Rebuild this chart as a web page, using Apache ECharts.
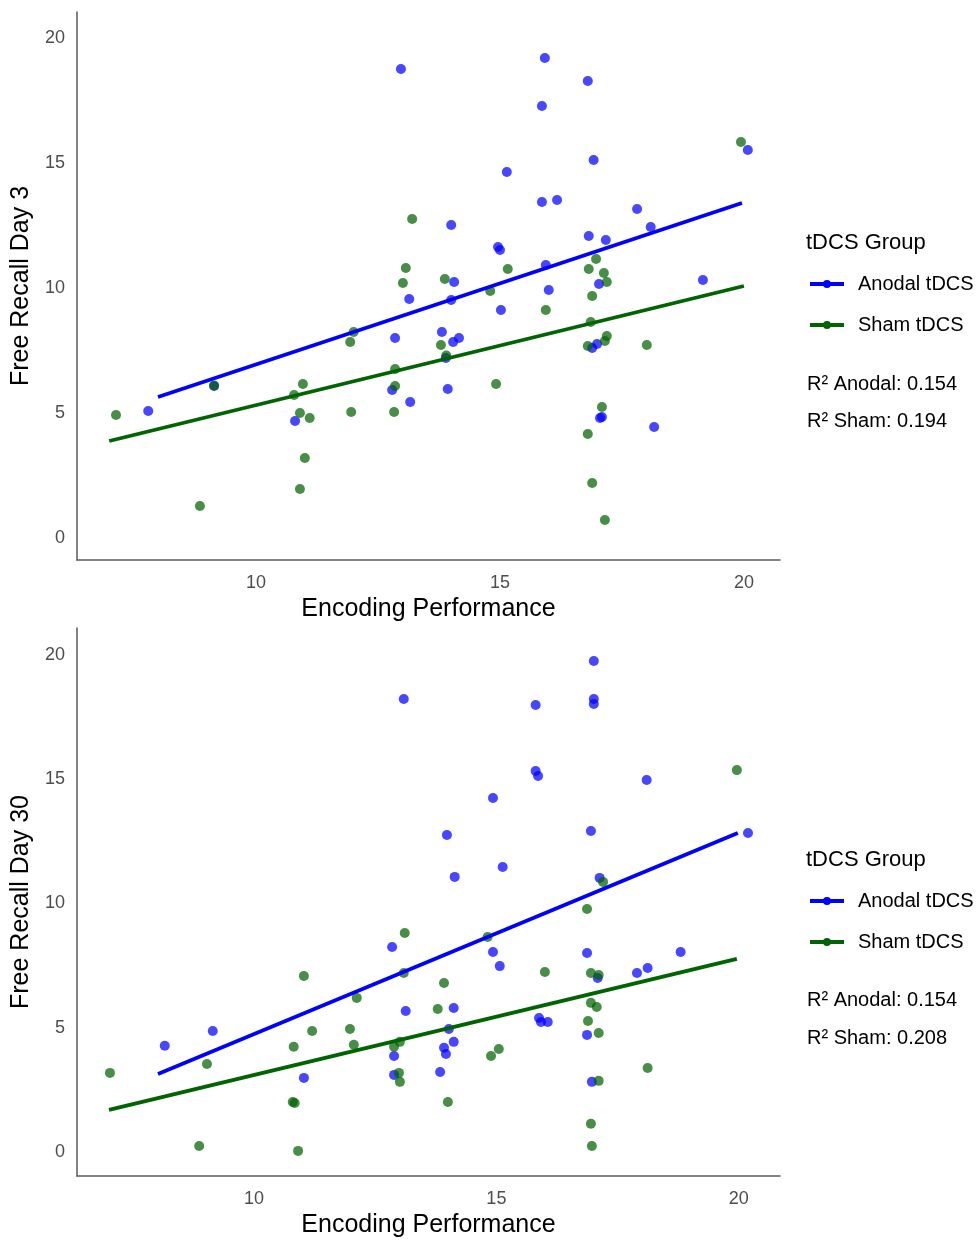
<!DOCTYPE html>
<html>
<head>
<meta charset="utf-8">
<title>Free Recall vs Encoding Performance</title>
<script src="https://cdn.jsdelivr.net/npm/echarts@6/dist/echarts.min.js"></script>
<style>
  html, body { margin: 0; padding: 0; background: #fff; }
  #main { width: 977px; height: 1241px; }
</style>
</head>
<body>
<div id="main"></div>
<script>
// 刻度
var xTicks = [10, 15, 20];
var yTicks = [0, 5, 10, 15, 20];
var groupNames = ['Anodal tDCS', 'Sham tDCS'];
var color = ['#0000ff', '#006400'];

// Day 3 散点 [encoding, recall]
var anodalDay3 = [
  [7.79,5.08],[9.14,6.08],[10.8,4.68],[12.97,18.76],[12.79,5.92],[12.85,8.0],[13.14,9.56],[13.16,5.44],
  [15.92,19.2],[16.8,18.28],[15.86,17.28],[16.92,15.12],[15.14,14.64],[20.08,15.52],[15.86,13.44],[16.17,13.52],
  [17.81,13.16],[18.09,12.44],[14.0,12.52],[16.82,12.08],[17.17,11.92],[14.96,11.64],[15.0,11.52],[15.94,10.92],
  [14.06,10.24],[17.03,10.16],[19.16,10.32],[16.0,9.92],[14.0,9.52],[15.02,9.12],[13.81,8.24],[14.04,7.84],
  [14.16,8.0],[13.89,7.2],[16.89,7.6],[16.99,7.76],[13.93,5.96],[17.05,4.8],[17.09,4.84],[18.16,4.44]
];
var shamDay3 = [
  [19.94,15.84],[13.2,12.76],[16.97,11.16],[16.82,10.76],[17.13,10.6],[13.07,10.8],[15.16,10.76],[13.87,10.36],
  [13.01,10.2],[17.19,10.24],[14.8,9.88],[16.89,9.68],[15.94,9.12],[13.79,7.72],[13.9,7.3],[16.86,8.64],
  [17.19,8.08],[17.15,7.88],[16.8,7.68],[18.01,7.72],[14.92,6.16],[17.09,5.24],[16.8,4.16],[16.89,2.2],
  [17.15,0.72],[12.0,8.24],[11.93,7.84],[12.85,6.76],[12.85,6.08],[12.83,5.04],[7.13,4.92],[9.14,6.1],
  [10.96,6.16],[10.78,5.72],[10.9,5.0],[11.1,4.8],[11.95,5.04],[11.0,3.2],[10.9,1.96],[8.85,1.28]
];
// Day 3 回归线端点
var anodalFitDay3 = [[7.99,5.64],[19.96,13.4]];
var shamFitDay3 = [[6.99,3.88],[20.0,10.08]];

// Day 30 散点
var anodalDay30 = [
  [13.09,18.23],[17.01,19.76],[15.81,17.99],[17.01,18.23],[17.01,18.03],[15.81,15.33],[15.86,15.13],[18.1,14.97],
  [14.93,14.25],[13.98,12.76],[16.95,12.92],[20.19,12.84],[15.13,11.47],[14.14,11.07],[17.13,11.03],[12.85,8.25],
  [13.13,5.67],[9.15,4.87],[8.16,4.27],[12.89,3.86],[11.03,2.98],[12.89,3.1],[14.93,8.05],[15.07,7.48],
  [16.87,8.01],[18.8,8.05],[17.09,7.0],[17.9,7.2],[18.12,7.4],[14.12,5.79],[14.02,4.95],[14.12,4.43],
  [13.92,4.19],[13.96,3.94],[13.84,3.22],[15.88,5.39],[15.92,5.23],[16.06,5.23],[16.87,4.71],[16.97,2.82]
];
var shamDay30 = [
  [19.96,15.37],[17.2,10.87],[13.11,8.81],[13.09,7.2],[11.03,7.08],[12.12,6.2],[9.03,3.54],[7.03,3.18],
  [11.2,4.87],[11.98,4.95],[10.82,4.23],[12.06,4.31],[12.89,4.23],[13.01,4.43],[12.99,3.18],[13.01,2.82],
  [10.8,2.01],[10.84,1.97],[8.87,0.24],[10.91,0.04],[16.87,9.78],[14.82,8.65],[16.0,7.24],[16.95,7.2],
  [17.11,7.12],[13.92,6.8],[13.79,5.75],[14.0,2.01],[14.89,3.86],[15.05,4.14],[16.95,6.0],[17.07,5.83],
  [16.89,5.27],[17.11,4.79],[18.12,3.38],[17.11,2.86],[16.95,1.13],[16.97,0.24]
];
var anodalFitDay30 = [[8.02,3.14],[19.98,12.84]];
var shamFitDay30 = [[7.01,1.69],[19.96,7.77]];

var r2Day3 = ['R\u00b2 Anodal: 0.154', 'R\u00b2 Sham: 0.194'];
var r2Day30 = ['R\u00b2 Anodal: 0.154', 'R\u00b2 Sham: 0.208'];

var fontFamily = '"Liberation Sans", Arial, sans-serif';
var axisColor = '#5a5a5a';

// x轴
function makeX(idx, min, max){
  return {
    type: 'value', gridIndex: idx, min: min, max: max,
    name: 'Encoding Performance', nameLocation: 'middle', nameGap: 37,
    nameTextStyle: { fontSize: 25, color: '#000', fontFamily: fontFamily },
    axisLine: { show: true, onZero: false, lineStyle: { color: axisColor, width: 1.5 } },
    axisTick: { show: false },
    splitLine: { show: false },
    axisLabel: { customValues: xTicks, fontSize: 18, color: '#4d4d4d', margin: 14, fontFamily: fontFamily }
  };
}

// y轴
function makeY(idx, min, max, title){
  return {
    type: 'value', gridIndex: idx, min: min, max: max,
    name: title, nameLocation: 'middle', nameGap: 43,
    nameTextStyle: { fontSize: 25, color: '#000', fontFamily: fontFamily },
    axisLine: { show: true, onZero: false, lineStyle: { color: axisColor, width: 1.5 } },
    axisTick: { show: false },
    splitLine: { show: false },
    axisLabel: { customValues: yTicks, fontSize: 18, color: '#4d4d4d', margin: 12, fontFamily: fontFamily }
  };
}

function fitLine(idx, name, data, c){
  return {
    type: 'line', name: name, xAxisIndex: idx, yAxisIndex: idx, data: data,
    showSymbol: false, z: 4, silent: true,
    itemStyle: { color: c },
    lineStyle: { color: c, width: 3.8 }
  };
}

function points(idx, name, data, c){
  return {
    type: 'scatter', name: name, xAxisIndex: idx, yAxisIndex: idx, data: data,
    symbolSize: 10, z: 2,
    itemStyle: { color: c, opacity: 0.72 }
  };
}

// 图例 线+圆点
var legendIcon = 'path://M0,3H34V7H0Z M17,1A4,4 0 1,1 16.99,1Z';

function makeLegend(top){
  return {
    orient: 'vertical', left: 805, top: top,
    data: groupNames, icon: legendIcon,
    itemWidth: 34, itemHeight: 10, itemGap: 21,
    selectedMode: false,
    itemStyle: { opacity: 1, borderWidth: 0 },
    textStyle: { fontSize: 20, color: '#000', lineHeight: 20, padding: [0, 0, 0, 9], fontFamily: fontFamily }
  };
}

function textEl(left, top, str, size){
  return {
    type: 'text', left: left, top: top,
    style: { text: str, fontSize: size, fill: '#000', fontFamily: fontFamily }
  };
}

var myChart = echarts.init(document.getElementById('main'), null, { renderer: 'canvas' });
myChart.setOption({
  backgroundColor: '#fff',
  animation: false,
  grid: [
    { left: 77, top: 12, width: 703, height: 548 },
    { left: 77, top: 628, width: 703, height: 548 }
  ],
  xAxis: [ makeX(0, 6.33, 20.74), makeX(1, 6.35, 20.85) ],
  yAxis: [ makeY(0, -0.88, 21.04, 'Free Recall Day 3'), makeY(1, -0.97, 21.09, 'Free Recall Day 30') ],
  legend: [ makeLegend(269), makeLegend(886) ],
  graphic: [
    textEl(806, 232, 'tDCS Group', 22),
    textEl(807, 374, r2Day3[0], 20),
    textEl(807, 411, r2Day3[1], 20),
    textEl(806, 849, 'tDCS Group', 22),
    textEl(807, 990, r2Day30[0], 20),
    textEl(807, 1028, r2Day30[1], 20)
  ],
  series: [
    fitLine(0, groupNames[0], anodalFitDay3, color[0]),
    fitLine(0, groupNames[1], shamFitDay3, color[1]),
    points(0, groupNames[0], anodalDay3, color[0]),
    points(0, groupNames[1], shamDay3, color[1]),
    fitLine(1, groupNames[0], anodalFitDay30, color[0]),
    fitLine(1, groupNames[1], shamFitDay30, color[1]),
    points(1, groupNames[0], anodalDay30, color[0]),
    points(1, groupNames[1], shamDay30, color[1])
  ]
});
</script>
</body>
</html>
